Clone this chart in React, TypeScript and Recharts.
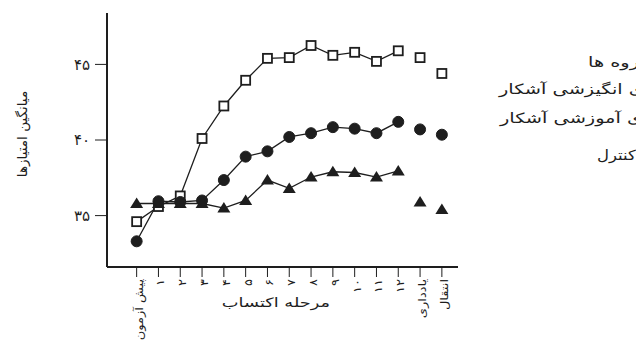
import React from "react";
import { LineChart, Line, XAxis, YAxis } from "recharts";

const stages = ["پیش آزمون", "۱", "۲", "۳", "۴", "۵", "۶", "۷", "۸", "۹", "۱۰", "۱۱", "۱۲", "یادداری", "انتقال"];
const motivational = [34.6, 35.6, 36.3, 40.1, 42.25, 43.95, 45.4, 45.45, 46.25, 45.6, 45.8, 45.2, 45.9, 45.45, 44.4];
const instructional = [33.3, 35.95, 35.9, 36.0, 37.35, 38.9, 39.25, 40.2, 40.45, 40.85, 40.75, 40.45, 41.2, 40.7, 40.35];
const control = [35.8, 35.8, 35.8, 35.8, 35.5, 36.0, 37.35, 36.8, 37.55, 37.9, 37.85, 37.55, 37.95, 35.9, 35.4];
const yTicks = [35, 40, 45];
const yTickLabels = ["۳۵", "۴۰", "۴۵"];
const legendLines = ["گروه ها", "خودگفتاری انگیزشی آشکار", "خودگفتاری آموزشی آشکار", "کنترل"];
const xTitle = "مرحله اکتساب";
const yTitle = "میانگین امتیازها";

const ACQ_END = 12;
const data = stages.map((s, i) => ({
  i,
  mot: i <= ACQ_END ? motivational[i] : null,
  motR: i > ACQ_END ? motivational[i] : null,
  ins: i <= ACQ_END ? instructional[i] : null,
  insR: i > ACQ_END ? instructional[i] : null,
  con: i <= ACQ_END ? control[i] : null,
  conR: i > ACQ_END ? control[i] : null,
}));

const INK = "#1e1e1e";
const FONT = "'DejaVu Sans', sans-serif";

const SquareDot = (p: any) => {
  if (p.cy == null || p.cx == null) return <g key={p.key ?? `s${p.index}`} />;
  return (
    <rect key={p.key ?? `s${p.index}`} x={p.cx - 4.5} y={p.cy - 4.5} width={9} height={9} fill="#fff" stroke={INK} strokeWidth={1.8} />
  );
};
const CircleDot = (p: any) => {
  if (p.cy == null || p.cx == null) return <g key={p.key ?? `c${p.index}`} />;
  return <circle key={p.key ?? `c${p.index}`} cx={p.cx} cy={p.cy} r={5.5} fill={INK} stroke={INK} />;
};
const TriDot = (p: any) => {
  if (p.cy == null || p.cx == null) return <g key={p.key ?? `t${p.index}`} />;
  const { cx, cy } = p;
  return (
    <polygon key={p.key ?? `t${p.index}`} points={`${cx},${cy - 6} ${cx + 6.5},${cy + 4.5} ${cx - 6.5},${cy + 4.5}`} fill={INK} />
  );
};

const XTick = (p: any) => {
  const { x, y, payload } = p;
  const label = stages[payload.value];
  return (
    <g transform={`translate(${x + 2}, ${y}) rotate(-90) scale(1.18, 1)`}>
      <text x={0} y={0} dy="0.35em" textAnchor="end" fontFamily={FONT} fontSize={11} fill={INK}>
        {label}
      </text>
    </g>
  );
};

const YTick = (p: any) => {
  const { x, y, payload } = p;
  const idx = yTicks.indexOf(payload.value);
  return (
    <text x={x} y={y} dy="0.35em" textAnchor="end" fontFamily={FONT} fontSize={15} letterSpacing={5} fill={INK}>
      {idx >= 0 ? yTickLabels[idx] : String(payload.value)}
    </text>
  );
};

const legendRows = [
  { y: 54, left: 580, sx: 1.38 },
  { y: 81, left: 491, sx: 1.38 },
  { y: 110, left: 492, sx: 1.38 },
  { y: 147, left: 589, sx: 1.18 },
];

export default function App() {
  return (
    <div style={{ position: "relative", width: 636, height: 332, overflow: "hidden" }}>
      <LineChart width={636} height={332} data={data} margin={{ top: 5, right: 186, bottom: 0, left: 0 }}>
        <defs>
          <clipPath id="legclip">
            <rect x={0} y={0} width={636} height={332} />
          </clipPath>
        </defs>
        <XAxis
          type="number"
          dataKey="i"
          domain={[-1.36, 14.74]}
          ticks={stages.map((_, i) => i)}
          allowDataOverflow
          height={73}
          tickSize={10}
          tickMargin={2}
          tick={<XTick />}
          axisLine={{ stroke: INK, strokeWidth: 2 }}
          tickLine={{ stroke: INK, strokeWidth: 1 }}
          interval={0}
        />
        <YAxis
          type="number"
          domain={[31.6, 48.4]}
          ticks={yTicks}
          allowDataOverflow
          width={99}
          tickSize={12}
          tickMargin={5}
          tick={<YTick />}
          axisLine={{ stroke: INK, strokeWidth: 2 }}
          tickLine={{ stroke: INK, strokeWidth: 1 }}
        />
        <Line dataKey="mot" stroke={INK} strokeWidth={1.3} dot={SquareDot} isAnimationActive={false} connectNulls={false} />
        <Line dataKey="motR" stroke="none" dot={SquareDot} isAnimationActive={false} />
        <Line dataKey="con" stroke={INK} strokeWidth={1.3} dot={TriDot} isAnimationActive={false} connectNulls={false} />
        <Line dataKey="conR" stroke="none" dot={TriDot} isAnimationActive={false} />
        <Line dataKey="ins" stroke={INK} strokeWidth={1.3} dot={CircleDot} isAnimationActive={false} connectNulls={false} />
        <Line dataKey="insR" stroke="none" dot={CircleDot} isAnimationActive={false} />
        <g transform="translate(268, 299) scale(1.37, 1)">
          <text x={0} y={0} textAnchor="middle" fontFamily={FONT} fontSize={13} fill={INK}>{xTitle}</text>
        </g>
        <text x={14} y={126} textAnchor="middle" transform="rotate(-90, 14, 126)" dy="0.35em" fontFamily={FONT} fontSize={13.5} fill={INK}>{yTitle}</text>
        <g clipPath="url(#legclip)">
          {legendRows.map((r, k) => (
            <g key={k} transform={`translate(${r.left}, ${r.y}) scale(${r.sx}, 1)`}>
              <text x={0} y={0} dy="0.35em" textAnchor="start" fontFamily={FONT} fontSize={14} fill={INK}>{legendLines[k]}</text>
            </g>
          ))}
        </g>
      </LineChart>
    </div>
  );
}
